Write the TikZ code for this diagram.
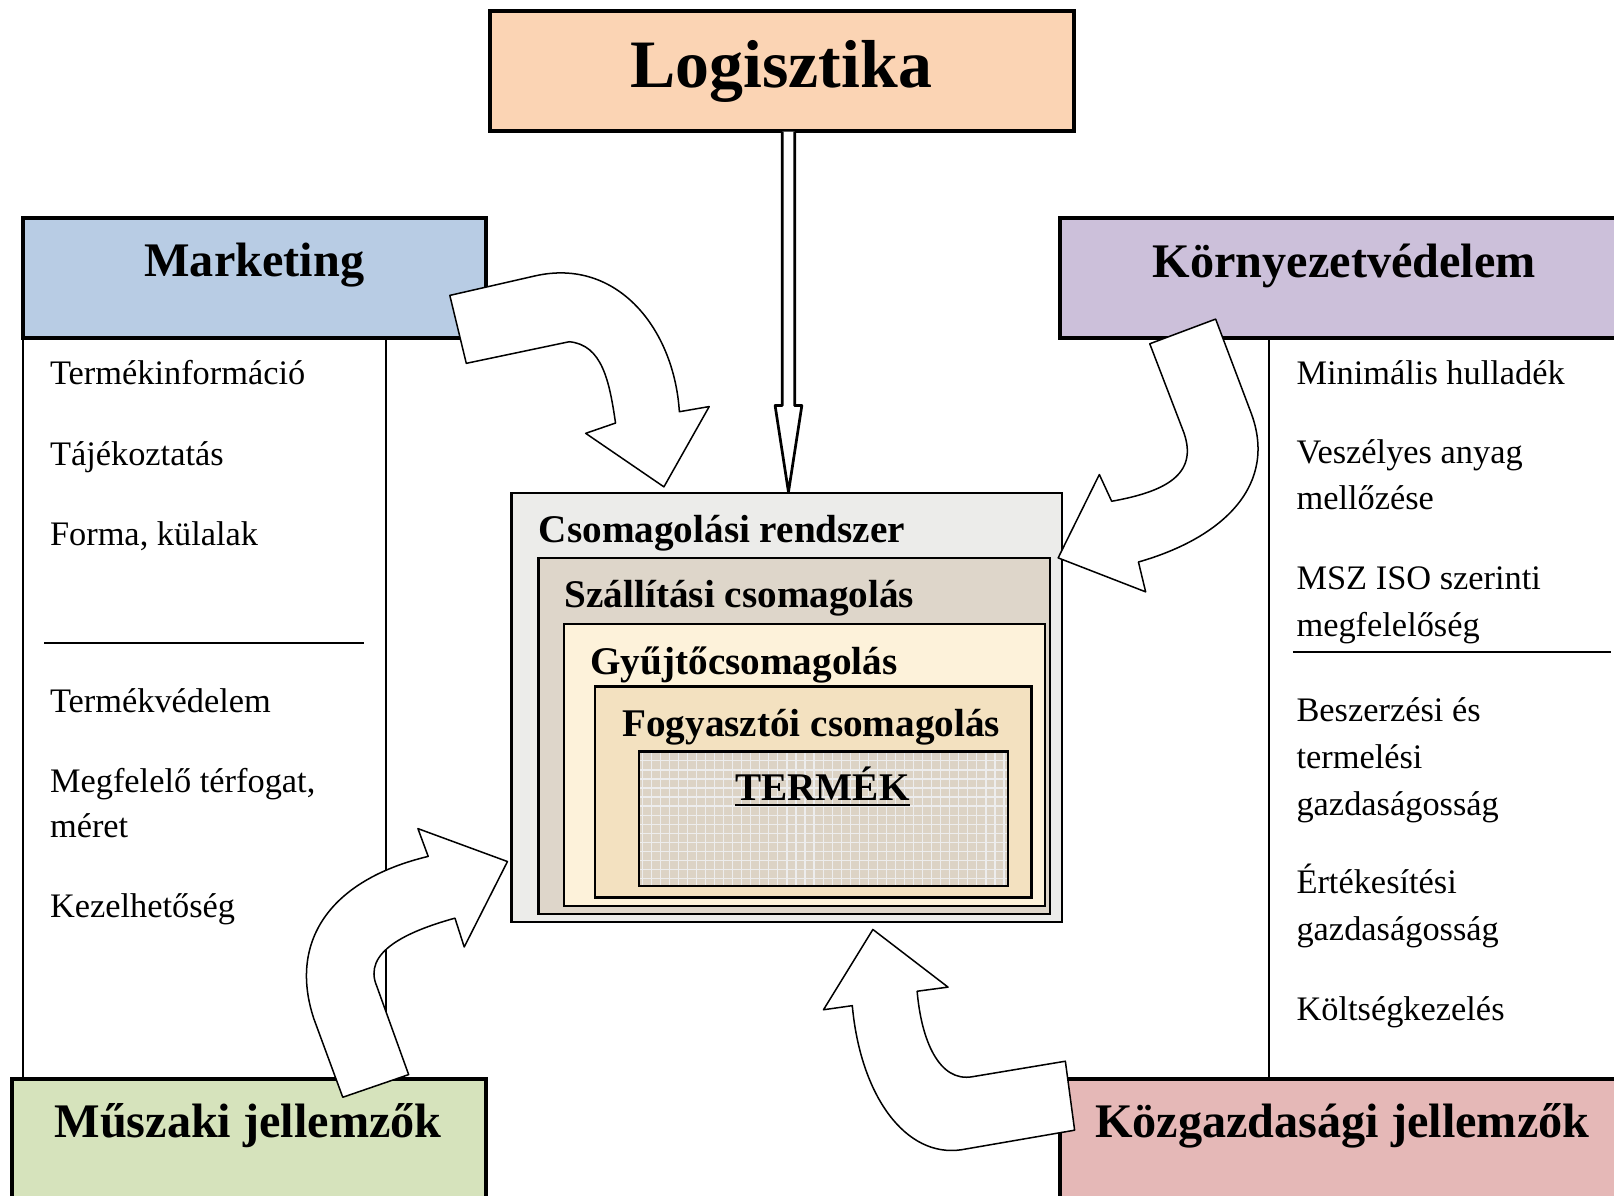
\documentclass[tikz,border=0pt]{standalone}
\usepackage{fontspec}
\setmainfont{Liberation Serif}
\usetikzlibrary{patterns}

\definecolor{logiorange}{HTML}{FBD4B4}
\definecolor{mktblue}{HTML}{B8CCE4}
\definecolor{envpurple}{HTML}{CCC0DA}
\definecolor{techgreen}{HTML}{D6E3BC}
\definecolor{ecored}{HTML}{E5B8B7}
\definecolor{packgray}{HTML}{ECECEA}
\definecolor{shipbeige}{HTML}{DED6CA}
\definecolor{collcream}{HTML}{FDF2DA}
\definecolor{constan}{HTML}{F3E1C0}
\definecolor{prodgray}{HTML}{DCD3C5}

\begin{document}
\begin{tikzpicture}[x=0.3414pt, y=-0.3414pt,
    header/.style={draw, line width=1.3pt},
    headtext/.style={font=\fontsize{16}{19}\selectfont\bfseries},
    item/.style={anchor=base west, inner sep=0pt, font=\fontsize{11.4}{14}\selectfont},
    layer/.style={draw, line width=0.8pt},
    layertext/.style={anchor=base west, inner sep=0pt, font=\fontsize{13}{15}\selectfont\bfseries},
    blockarrow/.style={draw, fill=white, line width=0.5pt, line join=round}]
        \useasboundingbox (0,0) rectangle (1568,1161);
        \clip (0,0) rectangle (1568,1161);
        \fill[white] (0,0) rectangle (1568,1161);

        % header boxes
        \draw[header, fill=logiorange] (476,11) rectangle (1043,127);
        \node[font=\fontsize{22.5}{26}\selectfont\bfseries] (logi) at (759,69) {Logisztika};

        \draw[header, fill=mktblue] (22,212) rectangle (472,328);
        \node[headtext] (mkt) at (247,258) {Marketing};

        \draw[header, fill=envpurple] (1030,212) rectangle (1582,328);
        \node[headtext] (env) at (1306,258) {Környezetvédelem};

        \draw[header, fill=techgreen] (12,1048) rectangle (472,1200);
        \node[headtext] (tech) at (241,1094) {Műszaki jellemzők};

        \draw[header, fill=ecored] (1030,1048) rectangle (1580,1200);
        \node[headtext] (eco) at (1304,1094) {Közgazdasági jellemzők};

        % columns
        \draw[line width=0.7pt] (22,328) -- (22,1048);
        \draw[line width=0.7pt] (375,328) -- (375,1048);
        \draw[line width=0.7pt] (1233,328) -- (1233,1048);
        \draw[line width=0.7pt] (43,625) -- (354,625);
        \draw[line width=0.7pt] (1256,633) -- (1565,633);

        \foreach \y/\t [count=\i] in {374/Termékinformáció, 452/Tájékoztatás, 530/{Forma, külalak},
                692/Termékvédelem, 770/{Megfelelő térfogat,}, 814/méret, 891/Kezelhetőség} {
            \node[item] (mk\i) at (48,\y) {\t};
        }
        \foreach \y/\t [count=\i] in {374/Minimális hulladék, 450/Veszélyes anyag, 495/mellőzése,
                573/MSZ ISO szerinti, 618/megfelelőség, 701/Beszerzési és, 747/termelési,
                792/gazdaságosság, 868/Értékesítési, 914/gazdaságosság, 991/Költségkezelés} {
            \node[item] (en\i) at (1259,\y) {\t};
        }

        % nested packaging layers
        \draw[layer, fill=packgray] (497,479) rectangle (1032,896);
        \draw[layer, fill=shipbeige] (523,542) rectangle (1020,888);
        \draw[layer, fill=collcream] (548,606) rectangle (1015,880);
        \draw[layer, fill=constan] (578,667) rectangle (1002,872);
        \draw[layer, fill=prodgray] (621,730) rectangle (979,861);
        \fill[pattern=grid, pattern color=black!7] (621,730) rectangle (979,861);
        \draw[layer] (621,730) rectangle (979,861);

        \node[layertext] (sys) at (523,527) {Csomagolási rendszer};
        \node[layertext] (ship) at (548,590) {Szállítási csomagolás};
        \node[layertext] (coll) at (573,655) {Gyűjtőcsomagolás};
        \node[layertext] (cons) at (604,716) {Fogyasztói csomagolás};
        \node[layertext, anchor=base] (prod) at (799,778) {\underline{TERMÉK}};

        % logisztika arrow
        \draw[blockarrow, line width=0.9pt] (760,128) -- (760,394) -- (753,394) -- (766,478)
            -- (779,394) -- (772,394) -- (772,128);

        % curved block arrows
        \draw[blockarrow] (437,287) -- (520,268) .. controls (600,250) and (655,320) .. (660,400)
            -- (689,395) -- (645,473) -- (569,421) -- (598,411)
            .. controls (592,370) and (585,335) .. (553,332) -- (453,353) -- cycle;
        \draw[blockarrow] (1117,334) -- (1150,420) .. controls (1165,462) and (1130,478) .. (1080,487)
            -- (1068,461) -- (1028,542) -- (1113,575) -- (1106,546)
            .. controls (1190,522) and (1242,470) .. (1215,400) -- (1181,310) -- cycle;
        \draw[blockarrow] (333,1066) -- (305,990) .. controls (280,915) and (320,855) .. (416,832)
            -- (406,805) -- (493,837) -- (451,920) -- (442,892)
            .. controls (395,905) and (352,925) .. (366,958) -- (397,1044) -- cycle;
        \draw[blockarrow] (1035,1031) -- (945,1046) .. controls (912,1052) and (895,1010) .. (891,963)
            -- (921,959) -- (848,903) -- (800,981) -- (828,977)
            .. controls (836,1065) and (880,1125) .. (934,1117) -- (1044,1098) -- cycle;
    \end{tikzpicture}
\end{document}
